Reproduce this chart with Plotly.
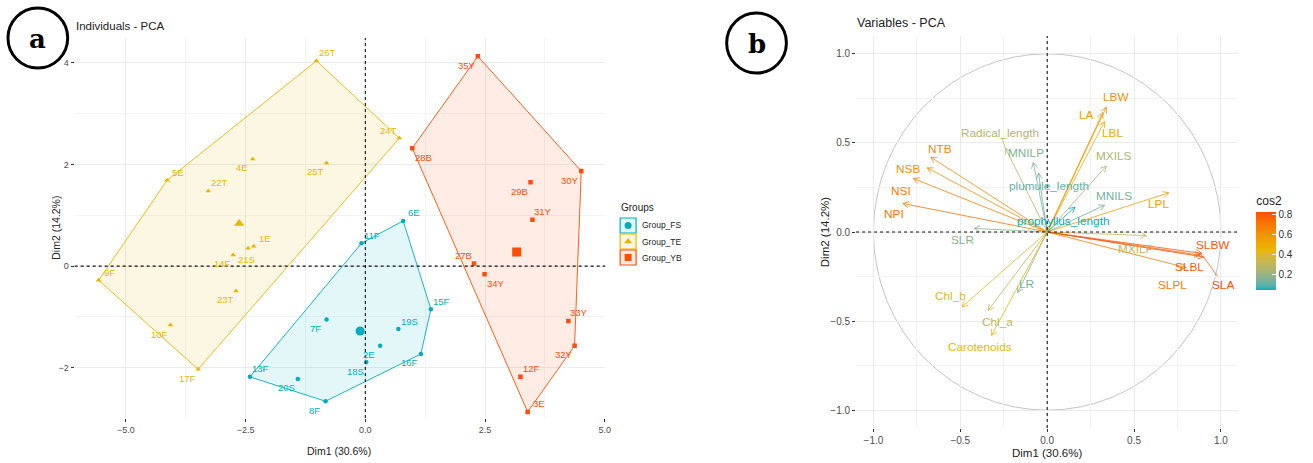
import math
import plotly.graph_objects as go

W, H = 1313, 463
FONT = "Liberation Sans, Arial, sans-serif"

# ---------------- Individuals: scores on Dim1 / Dim2 ----------------
fs_names = ["6E", "11F", "15F", "16F", "19S", "7F", "2E", "18S", "13F", "20S", "8F"]
fs_dim1 = [0.79, -0.08, 1.37, 1.16, 0.69, -0.81, 0.31, 0.02, -2.41, -1.41, -0.83]
fs_dim2 = [0.89, 0.45, -0.85, -1.73, -1.24, -1.05, -1.57, -1.89, -2.18, -2.22, -2.66]

te_names = ["26T", "24T", "25T", "4E", "5E", "22T", "1E", "21S", "14F", "23T", "9F", "10F", "17F"]
te_dim1 = [-1.02, 0.71, -0.81, -2.35, -4.14, -3.28, -2.33, -2.45, -2.76, -2.70, -5.57, -4.07, -3.49]
te_dim2 = [4.04, 2.52, 2.03, 2.11, 1.69, 1.48, 0.39, 0.35, 0.22, -0.49, -0.28, -1.16, -2.03]

yb_names = ["35Y", "28B", "30Y", "29B", "31Y", "27B", "34Y", "33Y", "32Y", "12F", "3E"]
yb_dim1 = [2.35, 0.98, 4.51, 3.45, 3.49, 2.27, 2.49, 4.24, 4.37, 3.24, 3.39]
yb_dim2 = [4.13, 2.32, 1.87, 1.65, 0.91, 0.05, -0.16, -1.08, -1.57, -2.18, -2.87]

group_labels = ["Group_FS", "Group_TE", "Group_YB"]

# ---------------- Variables: loadings on Dim1 / Dim2 ----------------
var_names = ["LBW", "LA", "LBL", "MXILS", "MNILS", "LPL", "MXILP", "SLBW", "SLBL", "SLA",
             "SLPL", "NTB", "NSB", "NSI", "NPI", "SLR", "Radical_length", "MNILP",
             "plumule_length", "prophyllus_length", "LR", "Chl_b", "Chl_a", "Carotenoids"]
var_dim1 = [0.34, 0.32, 0.33, 0.34, 0.33, 0.70, 0.57, 0.89, 0.88, 0.90,
            0.80, -0.67, -0.69, -0.77, -0.83, -0.42, -0.24, -0.08,
            -0.05, 0.16, -0.17, -0.49, -0.34, -0.32]
var_dim2 = [0.70, 0.67, 0.62, 0.37, 0.15, 0.22, -0.02, -0.12, -0.13, -0.14,
            -0.20, 0.42, 0.36, 0.30, 0.16, 0.02, 0.47, 0.39,
            0.33, 0.14, -0.34, -0.42, -0.44, -0.58]

# ---------------- styling ----------------
group_colors = ["#00AFBB", "#E7B800", "#FC4E07"]
group_symbols = ["circle", "triangle-up", "square"]
group_fill = ["rgba(0,175,187,0.11)", "rgba(231,184,0,0.11)", "rgba(252,78,7,0.11)"]
gradient_cols = ["#00AFBB", "#E7B800", "#FC4E07"]

# label placement codes for the repelled individual labels
pos_fs = ["tr", "tr", "tr", "bl", "tr", "bl", "bl", "bl", "tr", "bl", "bl"]
pos_te = ["tr", "tl", "bl", "bl", "tr", "tr", "tr", "b", "bl", "bl", "tr", "bl", "bl"]
pos_yb = ["bl", "br", "bl", "bl", "tr", "tl", "br", "tr", "bl", "tr", "tr"]
SHIFT = {"tr": (11, 8), "tl": (-11, 8), "bl": (-11, -9), "br": (11, -9), "b": (-1, -11)}

# pixel offsets of the variable labels from their arrow tips
var_label_shift = {
    "LBW": (10, 10), "LA": (-16, -2), "LBL": (8, -11), "MXILS": (8, 10), "MNILS": (9, 9),
    "LPL": (-10, -11), "MXILP": (-10, -13), "SLBW": (11, 8), "SLBL": (-11, -12),
    "SLA": (19, -28), "SLPL": (-14, -17), "NTB": (9, 8), "NSB": (-19, -1), "NSI": (-12, -12),
    "NPI": (-9, -11), "SLR": (-12, -12), "Radical_length": (-5, 15), "MNILP": (-7, 10),
    "plumule_length": (10, -13), "prophyllus_length": (-12, -14), "LR": (9, 9),
    "Chl_b": (-12, 11), "Chl_a": (9, -12), "Carotenoids": (-12, -12),
}
# labels that get a short leader segment back to their arrow tip
leader_labels = ["SLA", "Radical_length"]

# panel pixel boxes (left, top, right, bottom)
PANEL_A = (75, 38, 608, 418)
PANEL_B = (860, 36, 1244, 428)
XR_A, YR_A = (-6.07, 5.01), (-2.99, 4.49)
XR_B, YR_B = (-1.1, 1.1), (-1.1, 1.1)


def px_x(p):
    return p / W


def px_y(p):
    return 1 - p / H


# ---- colour gradient interpolated in CIELAB ----
def _hex_rgb(h):
    h = h.lstrip("#")
    return [int(h[i:i + 2], 16) / 255 for i in (0, 2, 4)]


def _lin(c):
    return c / 12.92 if c <= 0.04045 else ((c + 0.055) / 1.055) ** 2.4


def _gam(c):
    c = max(0.0, min(1.0, c))
    return 12.92 * c if c <= 0.0031308 else 1.055 * c ** (1 / 2.4) - 0.055


WHITE = (0.95047, 1.0, 1.08883)


def to_lab(h):
    r, g, b = [_lin(c) for c in _hex_rgb(h)]
    X = 0.4124 * r + 0.3576 * g + 0.1805 * b
    Y = 0.2126 * r + 0.7152 * g + 0.0722 * b
    Z = 0.0193 * r + 0.1192 * g + 0.9505 * b

    def f(t):
        return t ** (1 / 3) if t > 0.008856 else 7.787 * t + 16 / 116

    fx, fy, fz = f(X / WHITE[0]), f(Y / WHITE[1]), f(Z / WHITE[2])
    return (116 * fy - 16, 500 * (fx - fy), 200 * (fy - fz))


def from_lab(L, a, b):
    fy = (L + 16) / 116
    fx = fy + a / 500
    fz = fy - b / 200

    def fi(t):
        return t ** 3 if t ** 3 > 0.008856 else (t - 16 / 116) / 7.787

    X, Y, Z = WHITE[0] * fi(fx), WHITE[1] * fi(fy), WHITE[2] * fi(fz)
    r = 3.2406 * X - 1.5372 * Y - 0.4986 * Z
    g = -0.9689 * X + 1.8758 * Y + 0.0415 * Z
    bb = 0.0557 * X - 0.2040 * Y + 1.0570 * Z
    return "rgb(%d,%d,%d)" % tuple(round(_gam(c) * 255) for c in (r, g, bb))


LABS = [to_lab(c) for c in gradient_cols]


def grad(t):
    t = max(0.0, min(1.0, t))
    seg = min(int(t * (len(LABS) - 1)), len(LABS) - 2)
    u = t * (len(LABS) - 1) - seg
    a, b = LABS[seg], LABS[seg + 1]
    return from_lab(*[a[i] + (b[i] - a[i]) * u for i in range(3)])


cos2_scale = [[i / 40, grad(i / 40)] for i in range(41)]


def convex_hull(xs, ys):
    pts = sorted(set(zip(xs, ys)))

    def cross(o, a, b):
        return (a[0] - o[0]) * (b[1] - o[1]) - (a[1] - o[1]) * (b[0] - o[0])

    lower, upper = [], []
    for p in pts:
        while len(lower) >= 2 and cross(lower[-2], lower[-1], p) <= 0:
            lower.pop()
        lower.append(p)
    for p in reversed(pts):
        while len(upper) >= 2 and cross(upper[-2], upper[-1], p) <= 0:
            upper.pop()
        upper.append(p)
    hull = lower[:-1] + upper[:-1]
    hull.append(hull[0])
    return [p[0] for p in hull], [p[1] for p in hull]


fig = go.Figure()
annotations = []
shapes = []

groups = [
    (fs_names, fs_dim1, fs_dim2, pos_fs),
    (te_names, te_dim1, te_dim2, pos_te),
    (yb_names, yb_dim1, yb_dim2, pos_yb),
]

DASH = dict(color="#111111", width=1.1, dash="3px,3px")

# ---------------- panel a: individuals ----------------
shapes.append(dict(type="line", xref="x", yref="y domain", x0=0, x1=0, y0=0, y1=1,
                   line=DASH, layer="above"))
shapes.append(dict(type="line", xref="x domain", yref="y", x0=0, x1=1, y0=0, y1=0,
                   line=DASH, layer="above"))

for gi, (names, gx, gy, pos) in enumerate(groups):
    col = group_colors[gi]
    hx, hy = convex_hull(gx, gy)
    fig.add_trace(go.Scatter(
        x=hx, y=hy, mode="lines", fill="toself", fillcolor=group_fill[gi],
        line=dict(color=col, width=0.9), xaxis="x", yaxis="y",
        showlegend=False, hoverinfo="skip"))
    fig.add_trace(go.Scatter(
        x=gx, y=gy, mode="markers", xaxis="x", yaxis="y", showlegend=False,
        marker=dict(symbol=group_symbols[gi], color=col, size=5 if gi == 1 else 4.5,
                    line=dict(width=0)),
        text=names, hoverinfo="text"))
    # group centre (mean point)
    cx = sum(gx) / len(gx)
    cy = sum(gy) / len(gy)
    fig.add_trace(go.Scatter(
        x=[cx], y=[cy], mode="markers", xaxis="x", yaxis="y", showlegend=False,
        marker=dict(symbol=group_symbols[gi], color=col, size=9, line=dict(width=0)),
        hoverinfo="skip"))
    for n, xv, yv, p in zip(names, gx, gy, pos):
        dx, dy = SHIFT[p]
        annotations.append(dict(
            x=xv, y=yv, xref="x", yref="y", text=n, showarrow=False,
            xshift=dx, yshift=dy, font=dict(family=FONT, size=9.5, color=col)))

# ---------------- panel b: variables ----------------
cos2 = [a * a + b * b for a, b in zip(var_dim1, var_dim2)]
cmin, cmax = min(cos2), max(cos2)
var_colors = [grad((c - cmin) / (cmax - cmin)) for c in cos2]

shapes.append(dict(type="circle", xref="x2", yref="y2", x0=-1, y0=-1, x1=1, y1=1,
                   line=dict(color="#BEBEBE", width=0.9), layer="below"))
shapes.append(dict(type="line", xref="x2", yref="y2 domain", x0=0, x1=0, y0=0, y1=1,
                   line=DASH, layer="above"))
shapes.append(dict(type="line", xref="x2 domain", yref="y2", x0=0, x1=1, y0=0, y1=0,
                   line=DASH, layer="above"))

# pixels per data unit in panel b, used to shape the open arrow heads
SX = (PANEL_B[2] - PANEL_B[0]) / (XR_B[1] - XR_B[0])
SY = (PANEL_B[3] - PANEL_B[1]) / (YR_B[1] - YR_B[0])
HEAD_LEN, HEAD_ANG = 6.5, math.radians(28)

for n, xv, yv, col in zip(var_names, var_dim1, var_dim2, var_colors):
    ang = math.atan2(yv * SY, xv * SX)
    hx, hy = [], []
    for s in (1, -1):
        a = ang + math.pi + s * HEAD_ANG
        hx.append(xv + HEAD_LEN * math.cos(a) / SX)
        hy.append(yv + HEAD_LEN * math.sin(a) / SY)
    fig.add_trace(go.Scatter(
        x=[0, xv, None, hx[0], xv, hx[1]], y=[0, yv, None, hy[0], yv, hy[1]],
        mode="lines", line=dict(color=col, width=0.8), xaxis="x2", yaxis="y2",
        showlegend=False, hoverinfo="skip"))
    dx, dy = var_label_shift[n]
    annotations.append(dict(
        x=xv, y=yv, xref="x2", yref="y2", text=n, showarrow=False,
        xshift=dx, yshift=dy, font=dict(family=FONT, size=11.8, color=col)))
    if n in leader_labels:
        # leader from tip towards the displaced label
        lx = xv + (dx * 0.75) / SX
        ly = yv + (dy * 0.7) / SY
        fig.add_trace(go.Scatter(
            x=[xv, lx], y=[yv, ly], mode="lines", line=dict(color=col, width=0.7),
            xaxis="x2", yaxis="y2", showlegend=False, hoverinfo="skip"))

# colour bar for cos2
fig.add_trace(go.Scatter(
    x=var_dim1, y=var_dim2, mode="markers", xaxis="x2", yaxis="y2", showlegend=False,
    hoverinfo="skip",
    marker=dict(color=cos2, colorscale=cos2_scale, cmin=cmin, cmax=cmax, opacity=0,
                size=2, showscale=True,
                colorbar=dict(
                    title=dict(text="cos2", side="top", font=dict(family=FONT, size=12, color="#222")),
                    x=px_x(1262), xanchor="left", y=px_y(193), yanchor="top",
                    len=97 / H, lenmode="fraction", thickness=20, thicknessmode="pixels",
                    xpad=0, ypad=0, outlinewidth=0,
                    tickvals=[0.2, 0.4, 0.6, 0.8], ticktext=["0.2", "0.4", "0.6", "0.8"],
                    ticks="inside", ticklen=4, tickcolor="white",
                    tickfont=dict(family=FONT, size=10, color="#333")))))

# ---------------- group key (panel a) ----------------
key_top = [218, 234, 250]
for gi, lab in enumerate(group_labels):
    y0 = key_top[gi]
    shapes.append(dict(type="rect", xref="paper", yref="paper",
                       x0=px_x(623), x1=px_x(639), y0=px_y(y0 + 15), y1=px_y(y0),
                       line=dict(color=group_colors[gi], width=1.2),
                       fillcolor=group_fill[gi], layer="above"))
    fig.add_trace(go.Scatter(
        x=[631], y=[y0 + 7.5], mode="markers", xaxis="x3", yaxis="y3", showlegend=False,
        hoverinfo="skip",
        marker=dict(symbol=group_symbols[gi], color=group_colors[gi], size=7,
                    line=dict(width=0))))
    annotations.append(dict(x=px_x(643), y=px_y(y0 + 7.5), xref="paper", yref="paper",
                            text=lab, showarrow=False, xanchor="left", yanchor="middle",
                            font=dict(family=FONT, size=8.5, color="#222")))
annotations.append(dict(x=px_x(622), y=px_y(207), xref="paper", yref="paper",
                        text="Groups", showarrow=False, xanchor="left", yanchor="middle",
                        font=dict(family=FONT, size=10, color="#222")))


# ---------------- titles, axis titles, panel tags ----------------
def text_at(px, py, txt, size, anchor="center", angle=0, color="#222", family=FONT):
    annotations.append(dict(x=px_x(px), y=px_y(py), xref="paper", yref="paper",
                            text=txt, showarrow=False, xanchor=anchor, yanchor="middle",
                            textangle=angle, font=dict(family=family, size=size, color=color)))


text_at(74, 26, "Individuals - PCA", 11.5, anchor="left")
text_at(859, 23, "Variables - PCA", 12.5, anchor="left")
text_at(341, 451, "Dim1 (30.6%)", 10.5)
text_at(56, 228, "Dim2 (14.2%)", 10.5, angle=-90)
text_at(1052, 453, "Dim1 (30.6%)", 11.5)
text_at(829, 232, "Dim2 (14.2%)", 11.5, angle=-90)

for cxp, cyp, letter in [(38, 38, "a"), (760, 43, "b")]:
    shapes.append(dict(type="circle", xref="paper", yref="paper",
                       x0=px_x(cxp - 30), x1=px_x(cxp + 30), y0=px_y(cyp + 30), y1=px_y(cyp - 30),
                       line=dict(color="black", width=3)))
    text_at(cxp, cyp + 1, "<b>%s</b>" % letter, 26, color="black", family="DejaVu Serif")

axis_common = dict(showgrid=True, gridcolor="#EBEBEB", gridwidth=1, zeroline=False,
                   showline=False, ticks="outside", ticklen=3, tickcolor="#333333",
                   tickfont=dict(family=FONT, size=9, color="#4D4D4D"))
tick_b = {**axis_common, "tickfont": dict(family=FONT, size=10, color="#4D4D4D")}
minor_grid = dict(showgrid=True, gridcolor="#F3F3F3", gridwidth=0.6)

fig.update_layout(
    width=W, height=H,
    margin=dict(l=0, r=0, t=0, b=0),
    paper_bgcolor="white", plot_bgcolor="rgba(0,0,0,0)",
    xaxis=dict(domain=[px_x(PANEL_A[0]), px_x(PANEL_A[2])], range=list(XR_A), anchor="y",
               tick0=0, dtick=2.5, tickformat=".1f", minor=dict(dtick=1.25, **minor_grid),
               **axis_common),
    yaxis=dict(domain=[px_y(PANEL_A[3]), px_y(PANEL_A[1])], range=list(YR_A), anchor="x",
               tick0=0, dtick=2, tickformat="d", minor=dict(dtick=1, **minor_grid),
               **axis_common),
    xaxis2=dict(domain=[px_x(PANEL_B[0]), px_x(PANEL_B[2])], range=list(XR_B), anchor="y2",
                tick0=0, dtick=0.5, tickformat=".1f", minor=dict(dtick=0.25, **minor_grid),
                **tick_b),
    yaxis2=dict(domain=[px_y(PANEL_B[3]), px_y(PANEL_B[1])], range=list(YR_B), anchor="x2",
                tick0=0, dtick=0.5, tickformat=".1f", minor=dict(dtick=0.25, **minor_grid),
                **tick_b),
    xaxis3=dict(domain=[0, 1], range=[0, W], visible=False, anchor="y3", fixedrange=True),
    yaxis3=dict(domain=[0, 1], range=[H, 0], visible=False, anchor="x3", fixedrange=True),
    shapes=shapes,
    annotations=annotations,
    showlegend=False,
)

fig.write_html("out.html")
